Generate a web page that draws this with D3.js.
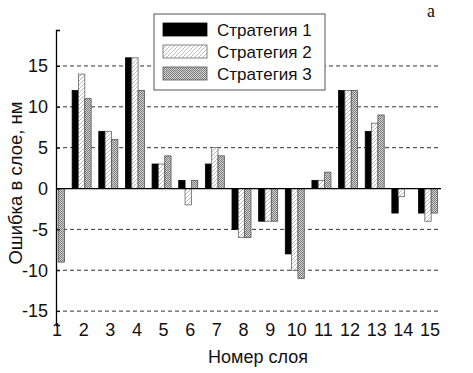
<!DOCTYPE html>
<html>
<head>
<meta charset="utf-8">
<script src="https://cdn.jsdelivr.net/npm/d3@7"></script>
<style>
  body { margin: 0; background: #fff; }
  text { font-family: "Liberation Sans", Arial, sans-serif; fill: #111; }
</style>
</head>
<body>
<svg id="chart" width="473" height="373"></svg>
<script>
// layer numbers
var layers = [1, 2, 3, 4, 5, 6, 7, 8, 9, 10, 11, 12, 13, 14, 15];
var seriesNames = ['Стратегия 1', 'Стратегия 2', 'Стратегия 3'];
// error per layer, nm
var strategy1 = [0, 12, 7, 16, 3, 1, 3, -5, -4, -8, 1, 12, 7, -3, -3];
var strategy2 = [0, 14, 7, 16, 3, -2, 5, -6, -4, -10, 1, 12, 8, -1, -4];
var strategy3 = [-9, 11, 6, 12, 4, 1, 4, -6, -4, -11, 2, 12, 9, 0, -3];
var yTicks = [-15, -10, -5, 0, 5, 10, 15];

var svg = d3.select('#chart');

// fill patterns
var defs = svg.append('defs');
var hatch = defs.append('pattern')
    .attr('id', 'hatch')
    .attr('patternUnits', 'userSpaceOnUse')
    .attr('width', 4).attr('height', 4);
hatch.append('rect').attr('width', 4).attr('height', 4).attr('fill', '#fff');
hatch.append('path').attr('d', 'M-1,1 l2,-2 M0,4 l4,-4 M3,5 l2,-2')
    .attr('stroke', '#bbb').attr('stroke-width', 1);
var cross = defs.append('pattern')
    .attr('id', 'cross')
    .attr('patternUnits', 'userSpaceOnUse')
    .attr('width', 2).attr('height', 2);
cross.append('rect').attr('width', 2).attr('height', 2).attr('fill', '#d8d8d8');
cross.append('rect').attr('width', 1).attr('height', 1).attr('fill', '#777');
cross.append('rect').attr('x', 1).attr('y', 1).attr('width', 1).attr('height', 1).attr('fill', '#777');

var fills = ['#000', 'url(#hatch)', 'url(#cross)'];
var strokes = ['#000', '#666', '#555'];

var axisX = 56;
var plotRight = 440;

var x = d3.scalePoint()
    .domain(layers)
    .range([55, 428]);
var sub = d3.scaleBand()
    .domain([0, 1, 2])
    .range([-9.5, 9.5]);
var y = d3.scaleLinear()
    .domain([-16.7, 19.4])
    .range([325, 30]);

// grid lines
svg.append('g')
    .selectAll('line')
    .data(yTicks.filter(function (d) { return d !== 0; }))
    .enter().append('line')
    .attr('x1', axisX).attr('x2', plotRight)
    .attr('y1', function (d) { return y(d); })
    .attr('y2', function (d) { return y(d); })
    .attr('stroke', '#333')
    .attr('stroke-width', 1)
    .attr('stroke-dasharray', '4,3');

// bars
var allSeries = [strategy1, strategy2, strategy3];
allSeries.forEach(function (values, s) {
    svg.append('g')
        .selectAll('rect')
        .data(values.map(function (v, i) { return { layer: layers[i], value: v }; })
            .filter(function (d) { return d.value !== 0; }))
        .enter().append('rect')
        .attr('x', function (d) { return x(d.layer) + sub(s); })
        .attr('width', sub.bandwidth())
        .attr('y', function (d) { return y(Math.max(0, d.value)); })
        .attr('height', function (d) { return Math.abs(y(d.value) - y(0)); })
        .attr('fill', fills[s])
        .attr('stroke', strokes[s])
        .attr('stroke-width', 0.8);
});

// zero line
svg.append('line')
    .attr('x1', axisX).attr('x2', plotRight + 1)
    .attr('y1', y(0)).attr('y2', y(0))
    .attr('stroke', '#000').attr('stroke-width', 1.3);

// y axis
var yAxis = svg.append('g')
    .attr('transform', 'translate(' + axisX + ',0)')
    .call(d3.axisLeft(y).tickValues(yTicks).tickSize(-4).tickPadding(8)
        .tickFormat(function (d) { return String(d); }));
yAxis.select('.domain').attr('stroke', '#000').attr('stroke-width', 1.3);
yAxis.selectAll('text').style('font-size', '18px');

// x tick labels
svg.append('g')
    .selectAll('text')
    .data(layers)
    .enter().append('text')
    .attr('x', function (d) { return x(d) + 2; })
    .attr('y', 336)
    .attr('text-anchor', 'middle')
    .style('font-size', '18px')
    .text(function (d) { return d; });

// axis titles
svg.append('text')
    .attr('x', 258).attr('y', 363)
    .attr('text-anchor', 'middle')
    .style('font-size', '18px')
    .text('Номер слоя');
svg.append('text')
    .attr('transform', 'translate(22,' + 183 + ') rotate(-90)')
    .attr('text-anchor', 'middle')
    .style('font-size', '18.5px')
    .text('Ошибка в слое, нм');

// panel letter
svg.append('text')
    .attr('x', 431).attr('y', 16.5)
    .attr('text-anchor', 'middle')
    .style('font-family', '"Liberation Serif", "Times New Roman", serif')
    .style('font-size', '18px')
    .text('а');

// legend
var legend = svg.append('g').attr('transform', 'translate(154,14)');
legend.append('rect')
    .attr('width', 171).attr('height', 76)
    .attr('fill', '#fff').attr('stroke', '#555').attr('stroke-width', 1);
var item = legend.selectAll('.item')
    .data(seriesNames)
    .enter().append('g')
    .attr('class', 'item')
    .attr('transform', function (d, i) { return 'translate(9,' + (9 + i * 22) + ')'; });
item.append('rect')
    .attr('width', 44).attr('height', 13)
    .attr('fill', function (d, i) { return fills[i]; })
    .attr('stroke', function (d, i) { return strokes[i]; })
    .attr('stroke-width', 0.8);
item.append('text')
    .attr('x', 54).attr('y', 12.5)
    .style('font-size', '17px')
    .text(function (d) { return d; });
</script>
</body>
</html>
